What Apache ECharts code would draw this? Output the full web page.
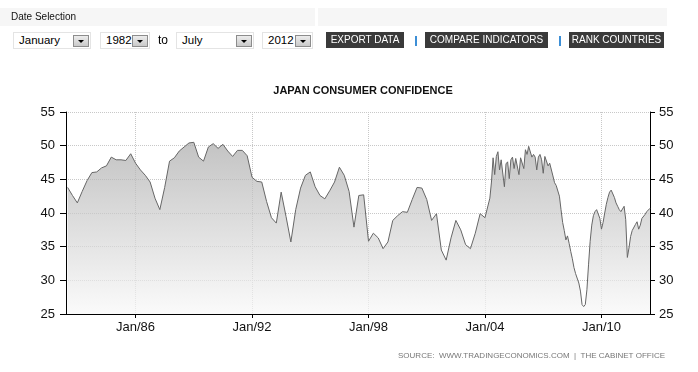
<!DOCTYPE html>
<html><head><meta charset="utf-8">
<script src="https://cdn.jsdelivr.net/npm/echarts@6/dist/echarts.min.js"></script>
<style>
html,body{margin:0;padding:0;background:#fff;}
#wrap{position:relative;width:698px;height:372px;overflow:hidden;font-family:"Liberation Sans",Arial,sans-serif;}
#chart{position:absolute;left:0;top:0;width:698px;height:372px;}
.band{position:absolute;top:8px;height:18px;background:#f6f6f6;}
.lbl{position:absolute;left:11px;top:11px;font-size:10px;line-height:12px;color:#111;}
.sel{position:absolute;top:32px;height:17px;border:1px solid #e4e4e4;background:#fff;box-sizing:border-box;font-size:11.5px;line-height:15px;color:#000;padding-left:5px;}
.arr{position:absolute;right:1px;top:2px;width:16px;height:12px;background:linear-gradient(#ececec,#c9c9c9);border:1px solid #8c8c8c;box-sizing:border-box;}
.arr:after{content:"";position:absolute;left:4px;top:4px;border-left:3px solid transparent;border-right:3px solid transparent;border-top:3px solid #000;}
.to{position:absolute;left:158px;top:33px;font-size:12px;line-height:15px;color:#000;}
.btn{position:absolute;top:32px;height:16px;background:#3a3a3a;color:#fff;font-size:10px;line-height:16px;text-align:center;white-space:nowrap;}
.sep{position:absolute;top:36px;width:2px;height:10px;background:#3d8fd6;}
</style>
</head>
<body>
<div id="wrap">
  <div id="chart"></div>
  <div class="band" style="left:0;width:315px;"></div>
  <div class="band" style="left:318px;width:349px;"></div>
  <div class="lbl">Date Selection</div>
  <div class="sel" style="left:13px;width:78px;">January<div class="arr"></div></div>
  <div class="sel" style="left:100px;width:50px;">1982<div class="arr"></div></div>
  <div class="to">to</div>
  <div class="sel" style="left:176px;width:78px;">July<div class="arr"></div></div>
  <div class="sel" style="left:262px;width:51px;">2012<div class="arr"></div></div>
  <div class="btn" style="left:326px;width:78px;">EXPORT DATA</div>
  <div class="sep" style="left:415px;"></div>
  <div class="btn" style="left:425px;width:123px;">COMPARE INDICATORS</div>
  <div class="sep" style="left:559px;"></div>
  <div class="btn" style="left:569px;width:95px;">RANK COUNTRIES</div>
</div>
<script>
// Quarterly readings: Jun 1982 ... Mar 2004 (survey months Mar/Jun/Sep/Dec)
const quarterlyStartYear = 1982, quarterlyStartMonth = 6;
const quarterlyValues = [
  43.8, 42.6, 41.5, 43.2, 44.8, 46.0, 46.1, 46.7, 47.0, 48.3,
  47.9, 47.9, 47.8, 48.8, 47.4, 46.4, 45.6, 44.6, 42.2, 40.5,
  43.8, 47.7, 48.2, 49.2, 49.8, 50.4, 50.5, 48.3, 47.7, 49.8,
  50.3, 49.6, 50.2, 49.2, 48.4, 49.3, 49.3, 48.5, 45.3, 44.7,
  44.6, 41.7, 39.3, 38.5, 43.1, 39.5, 35.7, 40.5, 43.7, 45.6,
  46.1, 43.9, 42.6, 42.1, 43.3, 44.6, 46.8, 45.6, 43.2, 37.9,
  42.6, 42.7, 35.8, 37.0, 36.3, 34.7, 35.7, 38.9, 39.6, 40.2,
  40.1, 42.0, 43.8, 43.7, 42.0, 38.9, 39.9, 34.5, 33.0, 36.3,
  38.9, 37.5, 35.3, 34.7, 37.0, 39.9, 39.3, 42.2
];
// Monthly readings: Apr 2004 ... Jun 2012
const monthlyStartYear = 2004, monthlyStartMonth = 4;
const monthlyValues = [
  44.6, 48.2, 45.7, 48.4, 49.1, 46.4, 47.9, 47.8, 43.9, 47.3,
  47.6, 45.1, 47.9, 48.3, 46.6, 48.1, 48.3, 45.7, 48.2, 48.3,
  46.6, 49.4, 48.7, 49.9, 49.9, 48.3, 48.7, 48.3, 46.4, 48.3,
  48.7, 47.9, 45.9, 48.4, 48.3, 47.0, 47.4, 47.2, 45.5, 44.5,
  44.1, 44.0, 42.5, 40.5, 38.6, 37.4, 36.0, 36.6, 35.5, 34.3,
  33.2, 31.9, 31.0, 31.2, 29.6, 28.4, 26.4, 26.1, 26.4, 28.6,
  32.3, 35.8, 38.2, 39.6, 40.2, 40.5, 40.4, 39.2, 37.6, 38.6,
  40.0, 41.3, 42.3, 43.1, 43.4, 43.2, 42.3, 41.5, 41.0, 40.5,
  40.2, 40.4, 41.0, 39.0, 33.4, 34.8, 36.5, 37.4, 37.4, 38.3,
  38.7, 37.6, 38.2, 39.2, 39.2, 39.8, 40.2, 40.3, 40.7
];
const tickYears = [1986, 1992, 1998, 2004, 2010];
const yTicks = {min: 25, max: 55, step: 5};
const chartTitle = 'JAPAN CONSUMER CONFIDENCE';
const sourceText = 'SOURCE:  WWW.TRADINGECONOMICS.COM  |  THE CABINET OFFICE';

// month-end position of each reading, in decimal years
const seriesData = [];
quarterlyValues.forEach((v, i) => {
  seriesData.push([quarterlyStartYear + (quarterlyStartMonth + 3 * i) / 12, v]);
});
monthlyValues.forEach((v, i) => {
  seriesData.push([monthlyStartYear + (monthlyStartMonth + i) / 12, v]);
});
const xMin = quarterlyStartYear + (quarterlyStartMonth - 1) / 12;
const xMax = seriesData[seriesData.length - 1][0];

const FONT = '"Liberation Sans", Arial, sans-serif';
const grid = {color: '#c8c8c8', type: [1, 1], width: 1};

const chart = echarts.init(document.getElementById('chart'));
chart.setOption({
  animation: false,
  title: {
    text: chartTitle, left: 358, top: 80, textAlign: 'center',
    textStyle: {fontFamily: FONT, fontSize: 11, fontWeight: 'bold', color: '#111'}
  },
  grid: {left: 66, right: 48, top: 112, bottom: 58},
  xAxis: {
    type: 'value', min: xMin, max: xMax,
    axisLine: {onZero: false, lineStyle: {color: '#000', width: 1}},
    axisTick: {customValues: tickYears, length: 4, lineStyle: {color: '#000'}},
    axisLabel: {
      customValues: tickYears, fontFamily: FONT, fontSize: 13, color: '#111', margin: 7,
      formatter: v => 'Jan/' + String(Math.round(v) % 100).padStart(2, '0')
    },
    splitLine: {show: true, lineStyle: grid}
  },
  yAxis: [
    {
      type: 'value', min: yTicks.min, max: yTicks.max, interval: yTicks.step, position: 'left',
      axisLine: {show: true, lineStyle: {color: '#000', width: 1}},
      axisTick: {show: true, length: 6, lineStyle: {color: '#000'}},
      axisLabel: {fontFamily: FONT, fontSize: 13, color: '#111', margin: 11},
      splitLine: {show: true, lineStyle: grid}
    },
    {
      type: 'value', min: yTicks.min, max: yTicks.max, interval: yTicks.step, position: 'right',
      axisLine: {show: true, lineStyle: {color: '#000', width: 1}},
      axisTick: {show: true, length: 5, lineStyle: {color: '#000'}},
      axisLabel: {fontFamily: FONT, fontSize: 13, color: '#111', margin: 9},
      splitLine: {show: false}
    }
  ],
  series: [{
    type: 'line', data: seriesData, yAxisIndex: 0, symbol: 'none', showSymbol: false,
    lineStyle: {color: '#666', width: 1},
    areaStyle: {
      origin: 'start',
      color: new echarts.graphic.LinearGradient(0, 0, 0, 1, [
        {offset: 0, color: '#a9a9a9'}, {offset: 1, color: '#f8f8f8'}
      ])
    }
  }],
  graphic: [{
    type: 'text', right: 33, top: 352,
    style: {text: sourceText, fontFamily: FONT, fontSize: 8, fill: '#777'}
  }]
});
</script>
</body></html>
